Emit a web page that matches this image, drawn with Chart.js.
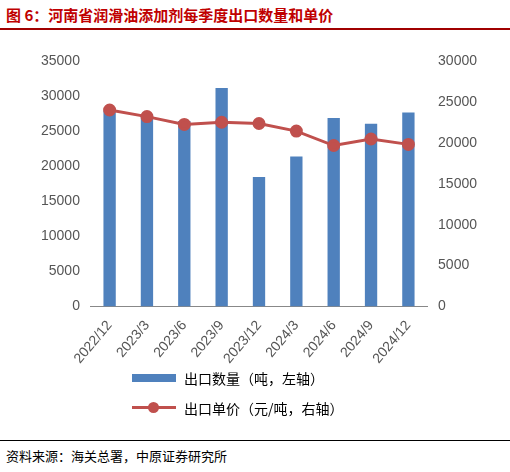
<!DOCTYPE html>
<html><head><meta charset="utf-8">
<script src="https://cdn.jsdelivr.net/npm/chart.js@4"></script>
<style>
body{margin:0;width:510px;height:472px;background:#fff;font-family:"Noto Sans CJK SC";position:relative}
#t{position:absolute;left:6px;top:4px;font-size:15px;font-weight:bold;color:#c00000}
#line1{position:absolute;left:0;top:28px;width:510px;border-top:2px solid #a00000}
#line2{position:absolute;left:0;top:440px;width:510px;border-top:1px solid #000}
#src{position:absolute;left:6px;top:446px;font-size:13px;color:#000}
#w{position:absolute;left:0;top:50px;width:510px;height:320px}
.lg{position:absolute;left:132px;font-size:14px;color:#000;display:flex;align-items:center}
.sw{display:inline-block;margin-right:8px;position:relative;width:44px;height:10px}
</style></head><body>
<div id="t">图 6：河南省润滑油添加剂每季度出口数量和单价</div>
<div id="line1"></div>
<div id="w"><canvas id="c"></canvas></div>
<div class="lg" style="top:368px"><span class="sw"><span style="position:absolute;left:0;top:1px;width:44px;height:8px;background:#4f81bd"></span></span>出口数量（吨，左轴）</div>
<div class="lg" style="top:398px"><span class="sw"><span style="position:absolute;left:0;top:3px;width:44px;height:3px;background:#c0504d"></span><span style="position:absolute;left:16px;top:-1px;width:11px;height:11px;border-radius:50%;background:#c0504d"></span></span>出口单价（元/吨，右轴）</div>
<div id="line2"></div>
<div id="src">资料来源：海关总署，中原证券研究所</div>
<script>
const categories=["2022/12","2023/3","2023/6","2023/9","2023/12","2024/3","2024/6","2024/9","2024/12"];
const qty=[28000,27500,26500,31200,18500,21400,26900,26100,27700];
const price=[24050,23240,22280,22550,22400,21470,19700,20500,19840];
new Chart(document.getElementById('c'),{
data:{labels:categories,datasets:[
{type:'line',label:'出口单价',data:price,yAxisID:'y1',borderColor:'#c0504d',backgroundColor:'#c0504d',borderWidth:3,pointRadius:5,pointHoverRadius:5,order:0},
{type:'bar',label:'出口数量',data:qty,yAxisID:'y',backgroundColor:'#4f81bd',barPercentage:0.33,categoryPercentage:1,order:1}
]},
options:{responsive:true,maintainAspectRatio:false,animation:false,
layout:{padding:{left:38,right:30,top:4}},
plugins:{legend:{display:false}},
scales:{
x:{grid:{display:false},border:{color:'#888'},ticks:{maxRotation:50,minRotation:50,font:{size:14},color:'#555'}},
y:{min:0,max:35000,ticks:{stepSize:5000,font:{size:14},color:'#555',callback:v=>String(v)},grid:{display:false},border:{display:false}},
y1:{position:'right',min:0,max:30000,ticks:{stepSize:5000,font:{size:14},color:'#555',callback:v=>String(v)},grid:{display:false},border:{display:false}}
}}});
</script></body></html>
